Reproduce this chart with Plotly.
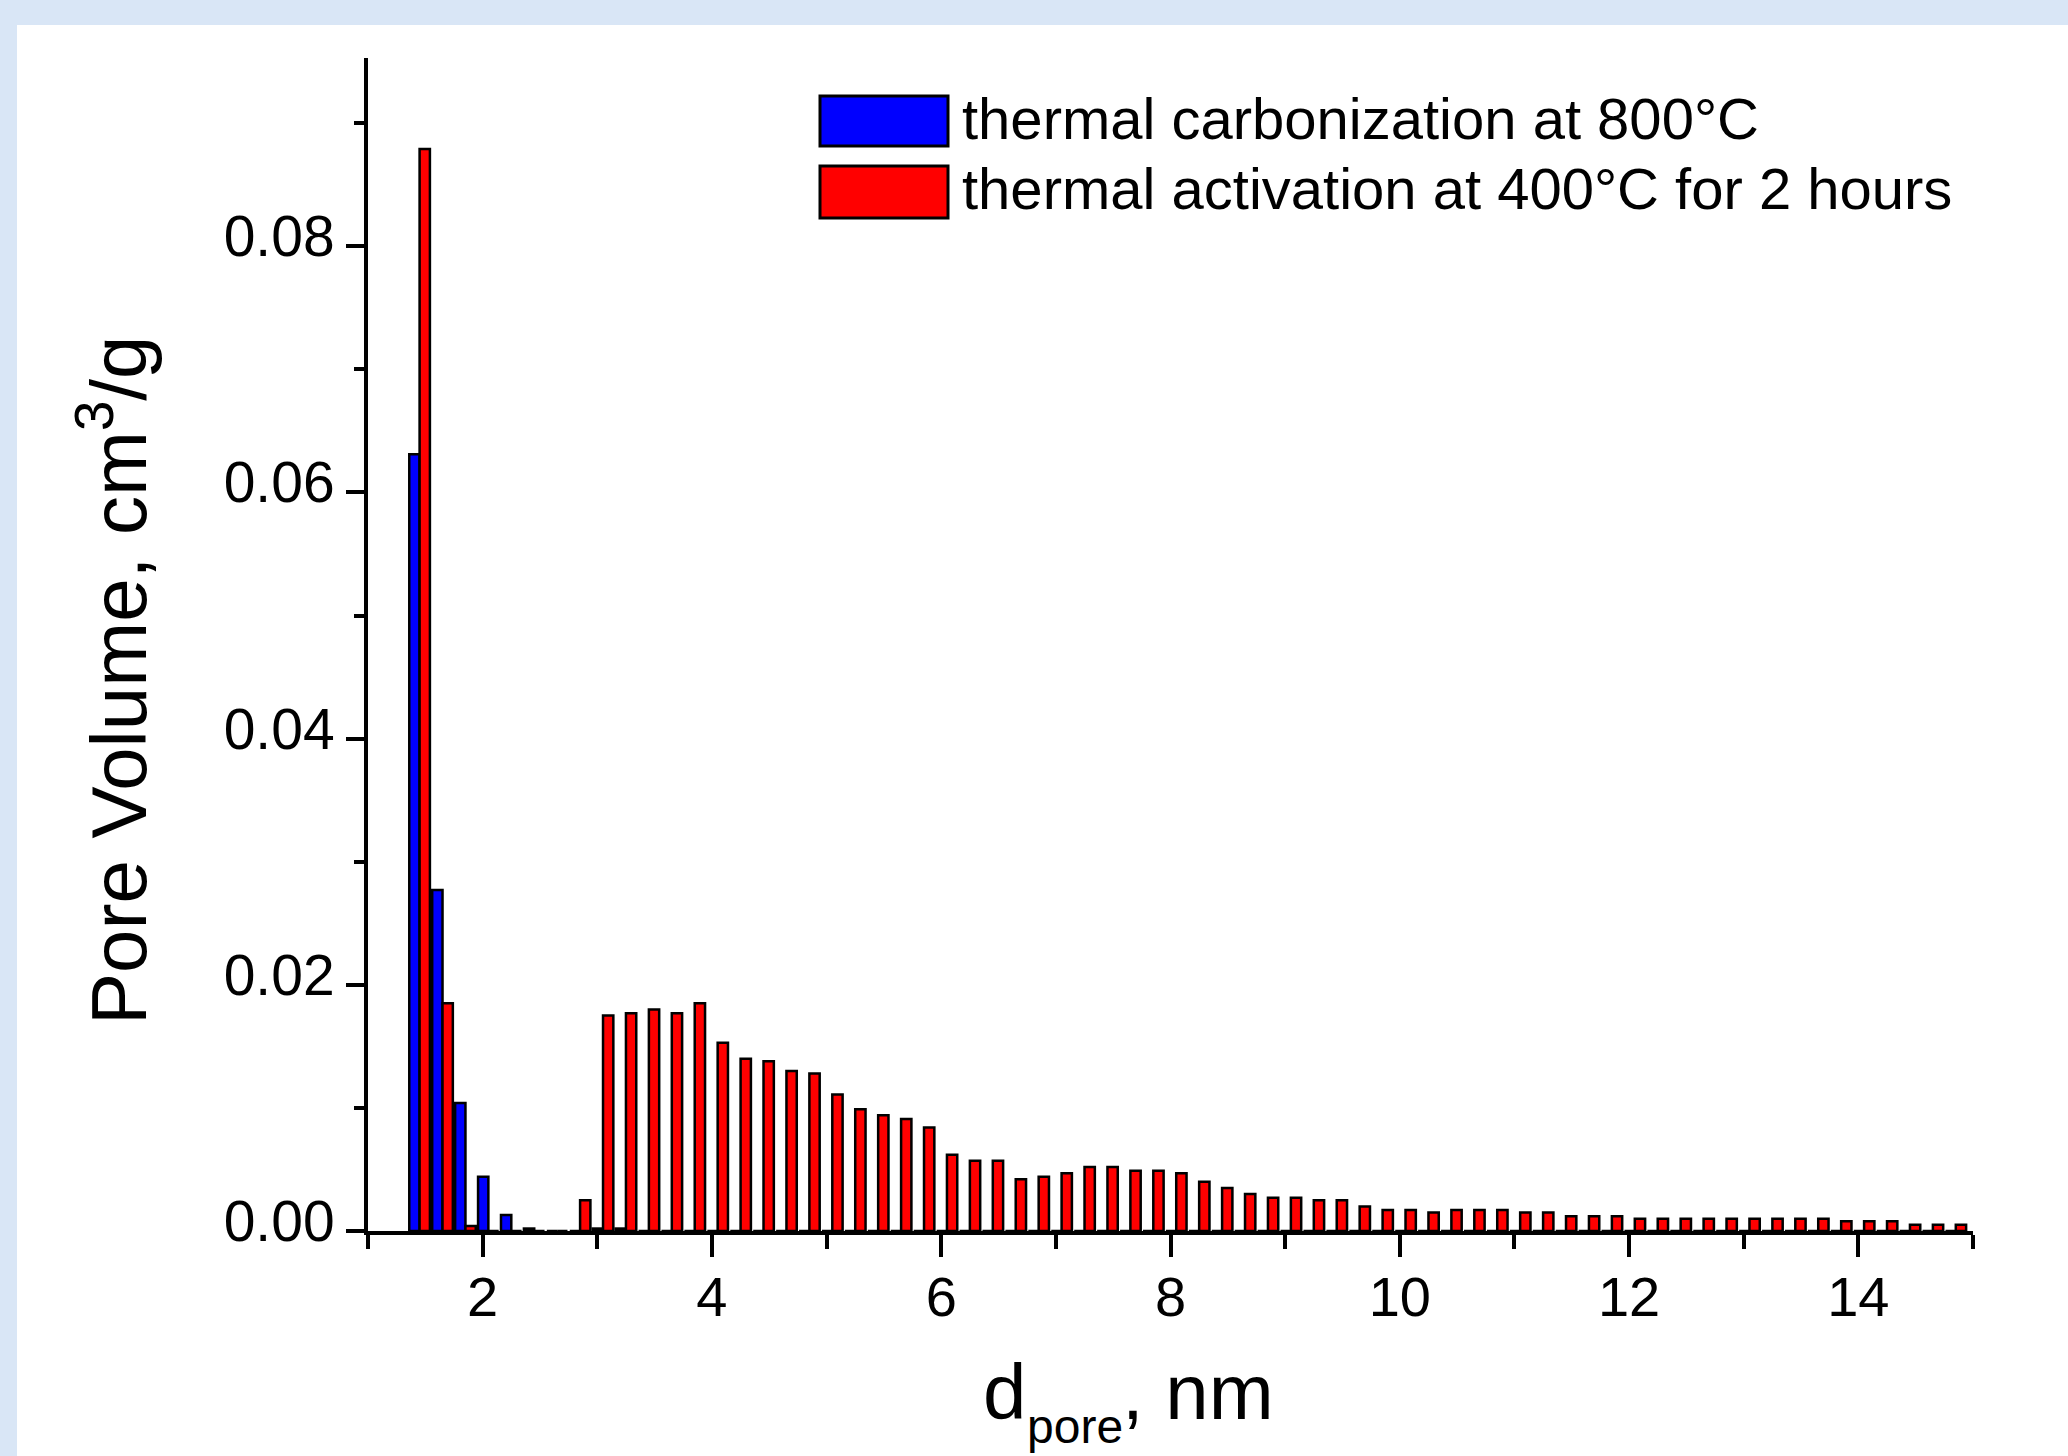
import plotly.graph_objects as go

# ---------------- data ----------------
pore_diameter_nm = [1.45, 1.65, 1.85, 2.05, 2.25, 2.45, 2.65, 2.85, 3.05, 3.25,
                    3.45, 3.65, 3.85, 4.05, 4.25, 4.45, 4.65, 4.85, 5.05, 5.25,
                    5.45, 5.65, 5.85, 6.05, 6.25, 6.45, 6.65, 6.85, 7.05, 7.25,
                    7.45, 7.65, 7.85, 8.05, 8.25, 8.45, 8.65, 8.85, 9.05, 9.25,
                    9.45, 9.65, 9.85, 10.05, 10.25, 10.45, 10.65, 10.85, 11.05, 11.25,
                    11.45, 11.65, 11.85, 12.05, 12.25, 12.45, 12.65, 12.85, 13.05, 13.25,
                    13.45, 13.65, 13.85, 14.05, 14.25, 14.45, 14.65, 14.85]

carbonization_800 = [0.0631, 0.0277, 0.0104, 0.0044, 0.0013, 0.0002, 0.0, 0.0, 0.0002, 0.0002,
                     0.0, 0.0, 0.0, 0.0, 0.0, 0.0, 0.0, 0.0, 0.0, 0.0,
                     0.0, 0.0, 0.0, 0.0, 0.0, 0.0, 0.0, 0.0, 0.0, 0.0,
                     0.0, 0.0, 0.0, 0.0, 0.0, 0.0, 0.0, 0.0, 0.0, 0.0,
                     0.0, 0.0, 0.0, 0.0, 0.0, 0.0, 0.0, 0.0, 0.0, 0.0,
                     0.0, 0.0, 0.0, 0.0, 0.0, 0.0, 0.0, 0.0, 0.0, 0.0,
                     0.0, 0.0, 0.0, 0.0, 0.0, 0.0, 0.0, 0.0]

activation_400 = [0.0879, 0.0185, 0.0004, 0.0, 0.0, 0.0, 0.0, 0.0025, 0.0175, 0.0177,
                  0.0180, 0.0177, 0.0185, 0.0153, 0.0140, 0.0138, 0.0130, 0.0128, 0.0111, 0.0099,
                  0.0094, 0.0091, 0.0084, 0.0062, 0.0057, 0.0057, 0.0042, 0.0044, 0.0047, 0.0052,
                  0.0052, 0.0049, 0.0049, 0.0047, 0.0040, 0.0035, 0.0030, 0.0027, 0.0027, 0.0025,
                  0.0025, 0.0020, 0.0017, 0.0017, 0.0015, 0.0017, 0.0017, 0.0017, 0.0015, 0.0015,
                  0.0012, 0.0012, 0.0012, 0.0010, 0.0010, 0.0010, 0.0010, 0.0010, 0.0010, 0.0010,
                  0.0010, 0.0010, 0.0008, 0.0008, 0.0008, 0.0005, 0.0005, 0.0005]

series_names = ["thermal carbonization at 800°C", "thermal activation at 400°C for 2 hours"]
series_colors = ["#0000FF", "#FF0000"]
x_title_parts = ["d", "pore", ", nm"]          # d with subscript "pore", then ", nm"
y_title = "Pore Volume, cm<sup>3</sup>/g"

# ---------------- layout geometry (pixels) ----------------
FIG_W, FIG_H = 2068, 1456
L, R, T, B = 368, 95, 58, 225
PW = FIG_W - L - R
PH = FIG_H - T - B
Y0PX = FIG_H - B


def px_x(px):
    return (px - L) / PW


def px_y(py):
    return (Y0PX - py) / PH


FONT = "Liberation Sans, Arial, sans-serif"

fig = go.Figure()
for vals, name, col in zip([carbonization_800, activation_400], series_names, series_colors):
    fig.add_trace(go.Bar(
        x=pore_diameter_nm, y=vals, name=name,
        marker=dict(color=col, line=dict(color="black", width=2.5)),
        showlegend=False,
    ))

shapes = [
    dict(type="rect", xref="paper", yref="paper",
         x0=px_x(17), x1=px_x(FIG_W + 5), y0=px_y(FIG_H + 5), y1=px_y(25),
         fillcolor="white", line=dict(width=0), layer="below"),
]
annotations = []

# custom legend with large swatches
legend_rows = [(96, 146, 119), (166, 218, 189)]
for (top, bot, mid), name, col in zip(legend_rows, series_names, series_colors):
    shapes.append(dict(type="rect", xref="paper", yref="paper",
                       x0=px_x(820), x1=px_x(948), y0=px_y(bot), y1=px_y(top),
                       fillcolor=col, line=dict(color="black", width=3)))
    annotations.append(dict(text=name, xref="paper", yref="paper",
                            x=px_x(960), y=px_y(mid), xanchor="left", yanchor="middle",
                            showarrow=False, font=dict(family=FONT, size=58, color="black")))

# x axis title: "d" + lowered subscript "pore" + ", nm"
xt_specs = [(981, 1392, 78), (1025, 1426, 48), (1120, 1392, 78)]
for part, (xl, yc, fs) in zip(x_title_parts, xt_specs):
    annotations.append(dict(text=part, xref="paper", yref="paper",
                            x=px_x(xl), y=px_y(yc), xanchor="left", yanchor="middle",
                            showarrow=False, font=dict(family=FONT, size=fs, color="black")))

annotations.append(dict(text=y_title, xref="paper", yref="paper",
                        x=px_x(113), y=px_y(681), xanchor="center", yanchor="middle",
                        textangle=-90, showarrow=False,
                        font=dict(family=FONT, size=78, color="black")))

fig.update_layout(
    width=FIG_W, height=FIG_H,
    margin=dict(l=L, r=R, t=T, b=B, autoexpand=False),
    paper_bgcolor="#d9e6f6",
    plot_bgcolor="white",
    barmode="group", bargap=0.1, bargroupgap=0.0,
    font=dict(family=FONT, size=57, color="black"),
    shapes=shapes, annotations=annotations,
    xaxis=dict(range=[1, 15], tick0=0, dtick=2, ticks="outside", ticklen=22, tickwidth=4,
               tickcolor="black", showline=True, linewidth=4, linecolor="black",
               showgrid=False, zeroline=False, ticklabelstandoff=-8,
               tickfont=dict(family=FONT, size=56, color="black"),
               minor=dict(dtick=1, ticks="outside", ticklen=14, tickwidth=4, tickcolor="black",
                          showgrid=False)),
    yaxis=dict(range=[0, 0.0953], tick0=0, dtick=0.02, tickformat=".2f",
               ticks="outside", ticklen=18, tickwidth=4, tickcolor="black",
               showline=True, linewidth=4, linecolor="black",
               showgrid=False, zeroline=False, ticklabelshift=-10,
               tickfont=dict(family=FONT, size=57, color="black"),
               minor=dict(dtick=0.01, ticks="outside", ticklen=10, tickwidth=4, tickcolor="black",
                          showgrid=False)),
)

fig.write_html("out.html", config={"displayModeBar": False},
               post_script="document.body.style.margin='0px';")
